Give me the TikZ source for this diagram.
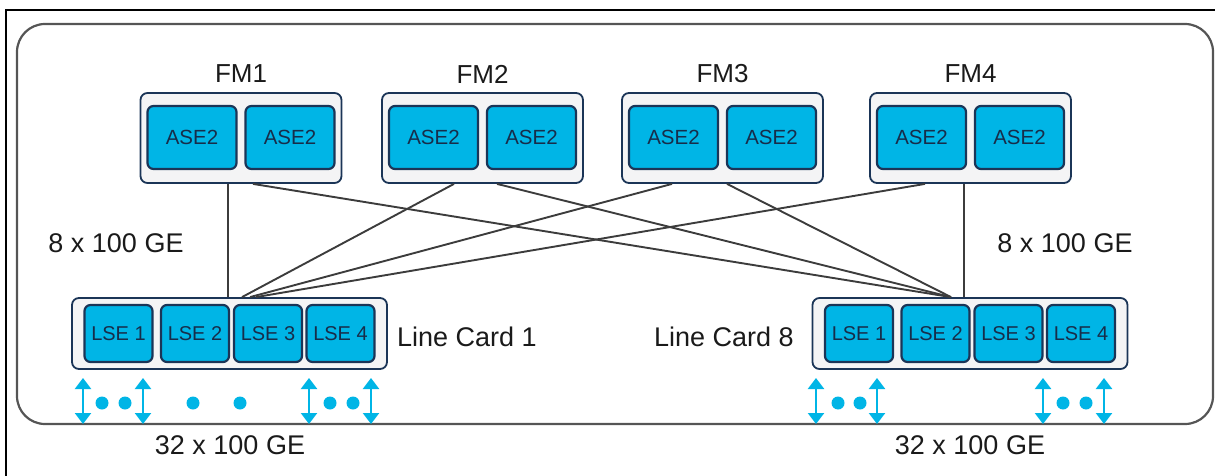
\documentclass[tikz,border=0pt]{standalone}
\usepackage{fontspec}
\setmainfont{Liberation Sans}
\usetikzlibrary{arrows.meta}
\definecolor{navy}{HTML}{1B3557}
\definecolor{chipfill}{HTML}{00B5E6}
\definecolor{boxfill}{HTML}{F4F4F5}
\definecolor{wire}{HTML}{3C3C3C}
\definecolor{frameg}{HTML}{555555}
\definecolor{txt}{HTML}{1A1A1A}
\tikzset{
  fmbox/.style={draw=navy, fill=boxfill, line width=1.8pt, rounded corners=7pt,
    minimum width=201pt, minimum height=90pt, inner sep=0pt},
  lcbox/.style={draw=navy, fill=boxfill, line width=1.8pt, rounded corners=7pt,
    minimum width=315pt, minimum height=71pt, inner sep=0pt},
  chip/.style={draw=navy, fill=chipfill, line width=2.2pt, rounded corners=6pt,
    minimum height=63pt, minimum width=89pt, inner sep=0pt, text=navy!85!black,
    font=\fontsize{20.5}{24}\selectfont},
  lse/.style={chip, minimum width=68pt, minimum height=57pt, font=\fontsize{20}{24}\selectfont},
  lbl/.style={text=txt, inner sep=0pt, font=\fontsize{27}{32}\selectfont},
  fmlbl/.style={text=txt, inner sep=0pt, font=\fontsize{26}{31}\selectfont},
  wireline/.style={draw=wire, line width=1.9pt},
  io/.style={draw=chipfill, line width=2.4pt, {Triangle[width=16pt,length=11pt]}-{Triangle[width=16pt,length=11pt]}},
  iodot/.style={fill=chipfill, draw=none, circle, minimum size=13pt, inner sep=0pt},
}
\begin{document}
\begin{tikzpicture}[x=1pt,y=-1pt]
\useasboundingbox (0,0) rectangle (1215,476);
% outer frame
\draw[black, line width=2pt] (6,476) -- (6,10) -- (1216,10);
\draw[frameg, line width=2.2pt, rounded corners=28pt] (17,24) rectangle (1213,424);

% fabric modules
\foreach \i/\cx in {1/241, 2/482.5, 3/722.5, 4/970.5}{
  \node[fmbox] (fm\i) at (\cx,138) {};
  \node[chip] (fm\i a) at (\cx-49,137.5) {ASE2};
  \node[chip] (fm\i b) at (\cx+49,137.5) {ASE2};
  \node[fmlbl] (fm\i l) at (\cx,74) {FM\i};
}

% line cards
\node[lcbox] (lc1) at (229.5,333.5) {};
\node[lcbox] (lc8) at (970,333.5) {};
\foreach \c in {1,8}{
  \node[lse] (lc\c s1) at ([xshift=-111pt]lc\c.center) {LSE 1};
  \node[lse] (lc\c s2) at ([xshift=-34.5pt]lc\c.center) {LSE 2};
  \node[lse] (lc\c s3) at ([xshift=38.5pt]lc\c.center) {LSE 3};
  \node[lse] (lc\c s4) at ([xshift=111pt]lc\c.center) {LSE 4};
}
\node[lbl, anchor=west] (lc1l) at (397,337) {Line Card 1};
\node[lbl, anchor=east] (lc8l) at (794,337) {Line Card 8};

% connectors
\draw[wireline] ([xshift=-13pt]fm1.south) -- ([xshift=-1.5pt]lc1.north);
\draw[wireline] ([xshift=12pt]fm1.south) -- ([xshift=-19pt]lc8.north);
\draw[wireline] ([xshift=-28.5pt]fm2.south) -- ([xshift=12.5pt]lc1.north);
\draw[wireline] ([xshift=14.5pt]fm2.south) -- ([xshift=-19pt]lc8.north);
\draw[wireline] ([xshift=-50.5pt]fm3.south) -- ([xshift=20.5pt]lc1.north);
\draw[wireline] ([xshift=4.5pt]fm3.south) -- ([xshift=-19pt]lc8.north);
\draw[wireline] ([xshift=-45.5pt]fm4.south) -- ([xshift=26.5pt]lc1.north);
\draw[wireline] ([xshift=-6.5pt]fm4.south) -- ([xshift=-6pt]lc8.north);

\node[lbl] (bwl) at (116,243) {8 x 100 GE};
\node[lbl] (bwr) at (1065,243) {8 x 100 GE};

% front ports
\foreach \x in {83,143,309,371,816,877,1043,1104}{
  \draw[io] (\x,378) -- (\x,424);
}
\foreach \x in {102,125,193,240,330,353,838,860,1063,1086}{
  \node[iodot] at (\x,403) {};
}
\node[lbl] (pl) at (230,445) {32 x 100 GE};
\node[lbl] (pr) at (970,445) {32 x 100 GE};
\end{tikzpicture}
\end{document}
